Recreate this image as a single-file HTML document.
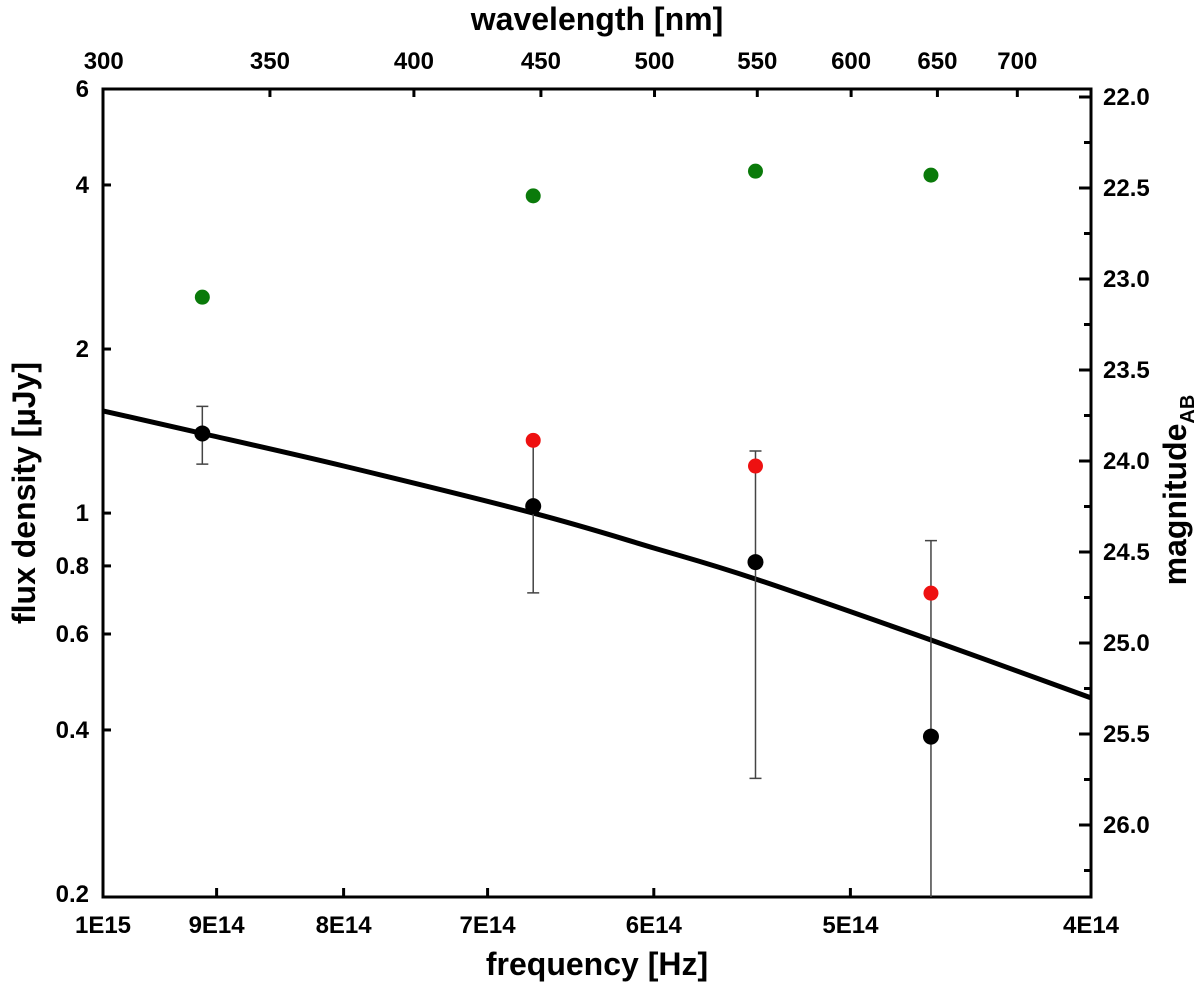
<!DOCTYPE html>
<html><head><meta charset="utf-8"><style>
html,body{margin:0;padding:0;background:#fff;}
svg{display:block;font-family:"Liberation Sans",Arial,sans-serif;font-weight:bold;}
</style></head><body>
<svg id="chart" width="1200" height="986" viewBox="0 0 1200 986" xmlns="http://www.w3.org/2000/svg"></svg>
<script>
const freqTicks = [1e15, 9e14, 8e14, 7e14, 6e14, 5e14, 4e14];
const freqTickLabels = ["1E15", "9E14", "8E14", "7E14", "6E14", "5E14", "4E14"];
const waveTicks = [300, 350, 400, 450, 500, 550, 600, 650, 700];
const fluxTicks = [6, 4, 2, 1, 0.8, 0.6, 0.4, 0.2];
const fluxTickLabels = ["6", "4", "2", "1", "0.8", "0.6", "0.4", "0.2"];
const magTicks = [22.0, 22.5, 23.0, 23.5, 24.0, 24.5, 25.0, 25.5, 26.0];
const magMinor = [22.25, 22.75, 23.25, 23.75, 24.25, 24.75, 25.25, 25.75, 26.25];
const obsFreq = [9.12e14, 6.71e14, 5.46e14, 4.64e14];
const blackFlux = [1.40, 1.03, 0.813, 0.389];
const blackErrHi = [1.57, 1.35, 1.30, 0.89];
const blackErrLo = [1.23, 0.714, 0.326, 0.1];
const redFlux = [null, 1.36, 1.22, 0.713];
const greenFlux = [2.49, 3.82, 4.24, 4.17];
const modelFreq = [1e15, 9.12e14, 8e14, 6.71e14, 6e14, 5.46e14, 4.64e14, 4e14];
const modelFlux = [1.54, 1.40, 1.22, 1.00, 0.863, 0.757, 0.585, 0.458];

const L=103, R=1091, T=89, B=897;
const svg=document.getElementById('chart');
const NS='http://www.w3.org/2000/svg';
function xF(nu){return L+Math.log10(1e15/nu)/Math.log10(2.5)*(R-L);}
function xW(l){return xF(2.998e17/l);}
function yV(v){return T+Math.log10(6/v)*545;}
function yM(m){return 97+(m-22)*182;}
function mk(tag,attrs,txt){const e=document.createElementNS(NS,tag);for(const k in attrs)e.setAttribute(k,attrs[k]);if(txt!==undefined)e.textContent=txt;svg.appendChild(e);return e;}

freqTicks.forEach((f,i)=>{
  const x=xF(f);
  if(i>0&&i<freqTicks.length-1){const t=mk('line',{x1:x,x2:x,y1:B,y2:B-9,stroke:'#000','stroke-width':3});
  
  }
  const lb=mk('text',{x:x,y:933,'text-anchor':'middle','font-size':24},freqTickLabels[i]);
  
  
});
waveTicks.forEach((w)=>{
  const x=xW(w);
  if(w>300){const t=mk('line',{x1:x,x2:x,y1:T,y2:T+8,stroke:'#000','stroke-width':3});
  
  }
  const lb=mk('text',{x:x,y:69,'text-anchor':'middle','font-size':24},String(w));
  
  
});
fluxTicks.forEach((v,i)=>{
  const y=yV(v);
  if(i>0&&i<fluxTicks.length-1){const t=mk('line',{x1:L,x2:L+8,y1:y,y2:y,stroke:'#000','stroke-width':3});
  
  }
  const lb=mk('text',{x:89,y:y+8,'text-anchor':'end','font-size':24},fluxTickLabels[i]);
  
  
});
magTicks.forEach(m=>{
  const y=yM(m);
  const t=mk('line',{x1:R,x2:R-12,y1:y,y2:y,stroke:'#000','stroke-width':3});
  
  
  const lb=mk('text',{x:1103,y:y+8,'text-anchor':'start','font-size':24},m.toFixed(1));
  
  
});
magMinor.forEach(m=>{
  const y=yM(m);
  const t=mk('line',{x1:R,x2:R-7,y1:y,y2:y,stroke:'#000','stroke-width':3});
  
  
});

const fr=mk('rect',{x:L,y:T,width:R-L,height:B-T,fill:'none',stroke:'#000','stroke-width':3});



const P=modelFreq.map((f,i)=>[xF(f),yV(modelFlux[i])]);
let d='M'+P[0][0].toFixed(1)+','+P[0][1].toFixed(1);
for(let i=0;i<P.length-1;i++){
  const p0=P[Math.max(0,i-1)],p1=P[i],p2=P[i+1],p3=P[Math.min(P.length-1,i+2)];
  const c1=[p1[0]+(p2[0]-p0[0])/6,p1[1]+(p2[1]-p0[1])/6];
  const c2=[p2[0]-(p3[0]-p1[0])/6,p2[1]-(p3[1]-p1[1])/6];
  d+=`C${c1[0].toFixed(1)},${c1[1].toFixed(1)} ${c2[0].toFixed(1)},${c2[1].toFixed(1)} ${p2[0].toFixed(1)},${p2[1].toFixed(1)}`;
}
const cv=mk('path',{d:d,fill:'none',stroke:'#000','stroke-width':5,'stroke-linejoin':'round'});



obsFreq.forEach((f,i)=>{
  const x=xF(f), y1=yV(blackErrHi[i]), y2=Math.min(B,yV(blackErrLo[i]));
  const g=mk('path',{d:`M${x},${y1}V${y2}M${x-6},${y1}H${x+6}`+(y2<B?`M${x-6},${y2}H${x+6}`:''),stroke:'#444','stroke-width':1.5,fill:'none'});
  
  
});
greenFlux.forEach((v,i)=>{
  const c=mk('circle',{cx:xF(obsFreq[i]),cy:yV(v),r:7.5,fill:'#0a7a0a'});
  
  
});
redFlux.forEach((v,i)=>{
  if(v===null)return;
  const c=mk('circle',{cx:xF(obsFreq[i]),cy:yV(v),r:7.5,fill:'#ee1111'});
  
  
});
blackFlux.forEach((v,i)=>{
  const c=mk('circle',{cx:xF(obsFreq[i]),cy:yV(v),r:8,fill:'#000'});
  
  
});

let t=mk('text',{x:(L+R)/2,y:975,'text-anchor':'middle','font-size':32},'frequency [Hz]');


t=mk('text',{x:(L+R)/2,y:30,'text-anchor':'middle','font-size':32},'wavelength [nm]');


t=mk('text',{x:0,y:0,'text-anchor':'middle','font-size':32,transform:'translate(35,493) rotate(-90)'},'flux density [µJy]');


t=mk('text',{x:0,y:0,'text-anchor':'middle','font-size':32,transform:'translate(1186,490) rotate(-90)'});


t.innerHTML='magnitude<tspan font-size="20" dy="8">AB</tspan>';
</script>
</body></html>
